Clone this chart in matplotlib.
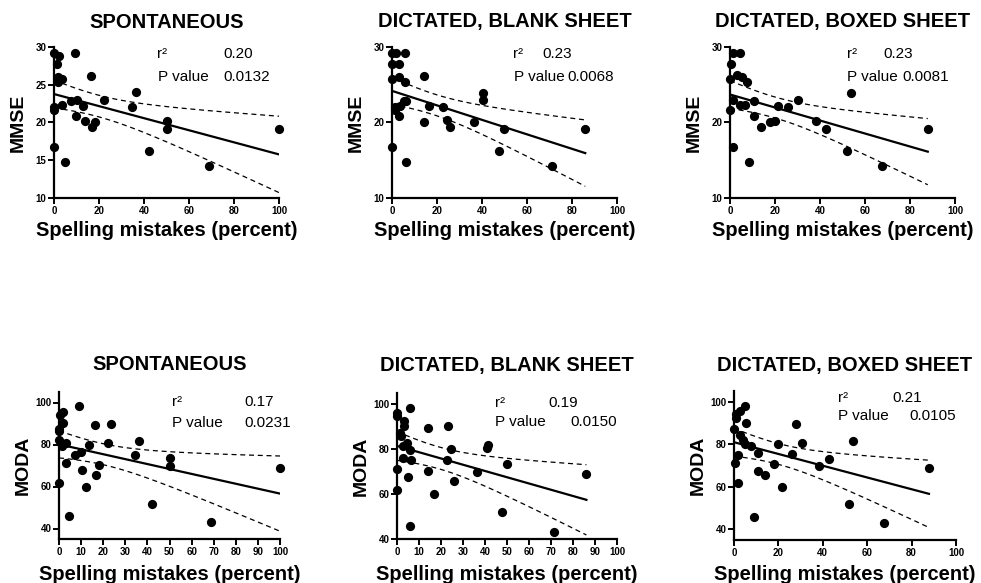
import matplotlib
matplotlib.use("Agg")
import matplotlib.pyplot as plt
import numpy as np

plt.rcParams['font.family'] = ['Liberation Sans', 'DejaVu Sans']

W, H = 981, 583

TITLES = ["SPONTANEOUS", "DICTATED, BLANK SHEET", "DICTATED, BOXED SHEET"]
XLABEL = "Spelling mistakes (percent)"
R2_TEXT = [["0.20", "0.23", "0.23"], ["0.17", "0.19", "0.21"]]
P_TEXT = [["0.0132", "0.0068", "0.0081"], ["0.0231", "0.0150", "0.0105"]]

# MMSE vs spelling mistakes
mmse_spont_x = [0, 2.4, 1.2, 9.2, 1.9, 3.4, 1.6, 16.3, 0, 0, 3.4, 7.6, 10.1, 12.7,
                9.8, 13.8, 16.7, 18.2, 22.4, 34.8, 36.3, 50.4, 50.4, 42.4, 0, 4.9,
                68.7, 100]
mmse_spont_y = [29.25, 28.8, 27.8, 29.25, 26.0, 25.7, 25.3, 26.2, 22.1, 21.7, 22.3, 22.9,
                23.0, 22.2, 20.8, 20.2, 19.4, 20.0, 23.0, 22.0, 24.0, 20.2, 19.2, 16.2,
                16.8, 14.8, 14.2, 19.2]

mmse_blank_x = [0, 1.6, 5.6, 0, 3.1, 0, 3.0, 5.6, 14.1, 1.2, 1.2, 3.4, 5.2, 6.4, 3.0,
                14.1, 16.4, 22.7, 24.4, 25.6, 36.3, 40.4, 40.4, 49.8, 47.4, 0, 6.1,
                71.3, 85.9]
mmse_blank_y = [29.25, 29.2, 29.25, 27.8, 27.8, 25.8, 26.0, 25.3, 26.2, 22.1, 21.6, 22.2,
                22.8, 22.8, 20.8, 20.0, 22.2, 22.0, 20.3, 19.4, 20.1, 23.9, 23.0, 19.2,
                16.2, 16.8, 14.8, 14.2, 19.2]

mmse_boxed_x = [1.2, 4.4, 0.4, 0, 3.0, 5.2, 7.7, 53.8, 1.5, 0, 4.4, 6.7, 10.8, 10.8,
                13.6, 17.8, 20.0, 21.2, 25.9, 30.1, 38.2, 42.7, 52.0, 1.5, 8.6, 67.6,
                87.9]
mmse_boxed_y = [29.25, 29.25, 27.8, 25.8, 26.3, 26.0, 25.3, 23.9, 23.0, 21.7, 22.3, 22.3,
                22.8, 20.8, 19.4, 20.0, 20.2, 22.2, 22.0, 23.0, 20.2, 19.2, 16.2, 16.8,
                14.8, 14.2, 19.2]

# MODA vs spelling mistakes
moda_spont_x = [0, 0, 0, 0, 0.3, 1.8, 1.8, 1.5, 3.0, 3.0, 4.4, 8.9, 7.1, 9.8, 10.6, 12.4,
                13.6, 16.2, 16.6, 18.0, 22.2, 23.7, 34.6, 36.1, 50.2, 50.2, 42.1, 68.6,
                100]
moda_spont_y = [61.7, 82.3, 86.2, 87.5, 94.1, 95.7, 90.2, 79.4, 80.7, 71.2, 45.9, 98.1,
                75.2, 76.3, 67.7, 59.8, 79.7, 89.4, 65.5, 70.4, 80.7, 89.9, 74.8, 81.8,
                73.6, 69.9, 51.9, 43.0, 68.8]

moda_blank_x = [0, 0, 0, 0, 1.8, 1.5, 3.3, 3.3, 2.7, 4.5, 2.7, 6.0, 6.5, 4.8, 6.0, 6.0,
                14.0, 14.0, 16.6, 23.1, 22.7, 24.6, 25.7, 36.3, 40.8, 41.2, 50.2, 47.6,
                71.5, 86.1]
moda_blank_y = [96.3, 94.8, 71.1, 61.6, 85.9, 87.1, 92.7, 90.1, 81.2, 82.7, 76.0, 79.7,
                75.3, 67.6, 98.2, 45.6, 89.6, 70.4, 59.9, 90.1, 75.0, 80.0, 65.6, 69.9,
                80.4, 81.9, 73.3, 51.9, 43.0, 68.9]

moda_boxed_x = [0, 0.5, 2.0, 2.0, 1.0, 1.0, 2.7, 5.0, 5.4, 2.7, 3.9, 5.0, 7.5, 11.0, 11.0,
                14.0, 9.0, 18.2, 20.0, 21.8, 26.3, 27.8, 30.5, 38.4, 42.9, 53.8, 52.0,
                67.6, 87.8]
moda_boxed_y = [87.0, 71.1, 61.6, 75.0, 94.0, 92.4, 95.6, 97.9, 90.0, 84.5, 82.1, 80.3,
                79.0, 76.1, 67.6, 65.4, 45.8, 70.5, 79.9, 60.0, 75.2, 89.7, 80.7, 69.8,
                73.1, 81.7, 51.8, 43.0, 68.9]

DATA = [
    [(mmse_spont_x, mmse_spont_y), (mmse_blank_x, mmse_blank_y), (mmse_boxed_x, mmse_boxed_y)],
    [(moda_spont_x, moda_spont_y), (moda_blank_x, moda_blank_y), (moda_boxed_x, moda_boxed_y)],
]
YLABELS = ["MMSE", "MODA"]

# layout in pixels: (left, right, top, bottom), ylim, yticks, xticks
AX_BOX = [
    [(54, 279, 47, 198), (392, 617, 47, 198), (730, 955, 47, 198)],
    [(59, 280, 392, 539), (397, 617, 393, 539), (734, 956, 391, 540)],
]
YLIMS = [[(10, 30)] * 3, [(35, 105), (40, 105), (35, 105)]]
YTICKS = [[[10, 15, 20, 25, 30], [10, 20, 30], [10, 20, 30]],
          [[40, 60, 80, 100]] * 3]
XTICKS = [[np.arange(0, 101, 20)] * 3,
          [np.arange(0, 101, 10), np.arange(0, 101, 10), np.arange(0, 101, 20)]]
# stats label positions (axes fraction): r2 label x, r2 value x, r2 y, p y
STAT_POS = [
    [(0.46, 0.755, 0.955, 0.80), (0.54, 0.67, 0.955, 0.80), (0.52, 0.68, 0.955, 0.80)],
    [(0.51, 0.84, 0.93, 0.79), (0.445, 0.69, 0.93, 0.80), (0.47, 0.715, 0.955, 0.83)],
]
STAT_PVAL_X = [[0.755, 0.78, 0.765], [0.84, 0.79, 0.79]]
T_CRIT = 2.05

fig = plt.figure(figsize=(W / 100, H / 100), dpi=100)

for row in range(2):
    for col in range(3):
        l, r, t, b = AX_BOX[row][col]
        ax = fig.add_axes([l / W, 1 - b / H, (r - l) / W, (b - t) / H])
        x = np.array(DATA[row][col][0], dtype=float)
        y = np.array(DATA[row][col][1], dtype=float)

        ax.scatter(x, y, s=44, color='black', zorder=3, clip_on=False, linewidths=0)

        # linear fit with 95% confidence band
        slope, intercept = np.polyfit(x, y, 1)
        n = len(x)
        resid = y - (slope * x + intercept)
        s = np.sqrt(np.sum(resid ** 2) / (n - 2))
        sxx = np.sum((x - x.mean()) ** 2)
        xs = np.linspace(x.min(), x.max(), 100)
        fit = slope * xs + intercept
        band = T_CRIT * s * np.sqrt(1 / n + (xs - x.mean()) ** 2 / sxx)
        ax.plot(xs, fit, color='black', lw=1.6, zorder=2)
        ax.plot(xs, fit + band, color='black', lw=0.9, ls=(0, (4, 3)), zorder=2)
        ax.plot(xs, fit - band, color='black', lw=0.9, ls=(0, (4, 3)), zorder=2)

        ax.set_xlim(0, 100)
        ax.set_ylim(*YLIMS[row][col])
        ax.set_xticks(XTICKS[row][col])
        ax.set_yticks(YTICKS[row][col])
        for side in ['top', 'right']:
            ax.spines[side].set_visible(False)
        for side in ['left', 'bottom']:
            ax.spines[side].set_linewidth(1.6)
        ax.tick_params(direction='out', length=4, width=1.4, pad=1.5, labelsize=7)
        for lab in ax.get_xticklabels() + ax.get_yticklabels():
            lab.set_fontweight('bold')

        # stats text
        rx, vx, ry, py = STAT_POS[row][col]
        ax.text(rx, ry, "r²", transform=ax.transAxes, fontsize=11, va='center')
        ax.text(vx, ry, R2_TEXT[row][col], transform=ax.transAxes, fontsize=11, va='center')
        ax.text(rx, py, "P value", transform=ax.transAxes, fontsize=11, va='center')
        ax.text(STAT_PVAL_X[row][col], py, P_TEXT[row][col], transform=ax.transAxes,
                fontsize=11, va='center')

        cx = (l + r) / 2
        title_y = 22 if row == 0 else 365
        xlabel_y = 230 if row == 0 else 575
        fig.text(cx / W, 1 - title_y / H, TITLES[col], fontsize=14.5, fontweight='bold',
                 ha='center', va='center')
        fig.text(cx / W, 1 - xlabel_y / H, XLABEL, fontsize=14.5, fontweight='bold',
                 ha='center', va='center')
        fig.text((l - 36) / W, 1 - ((t + b) / 2) / H, YLABELS[row], fontsize=14,
                 fontweight='bold', rotation=90, ha='center', va='center')

fig.savefig("out.png", dpi=100)
